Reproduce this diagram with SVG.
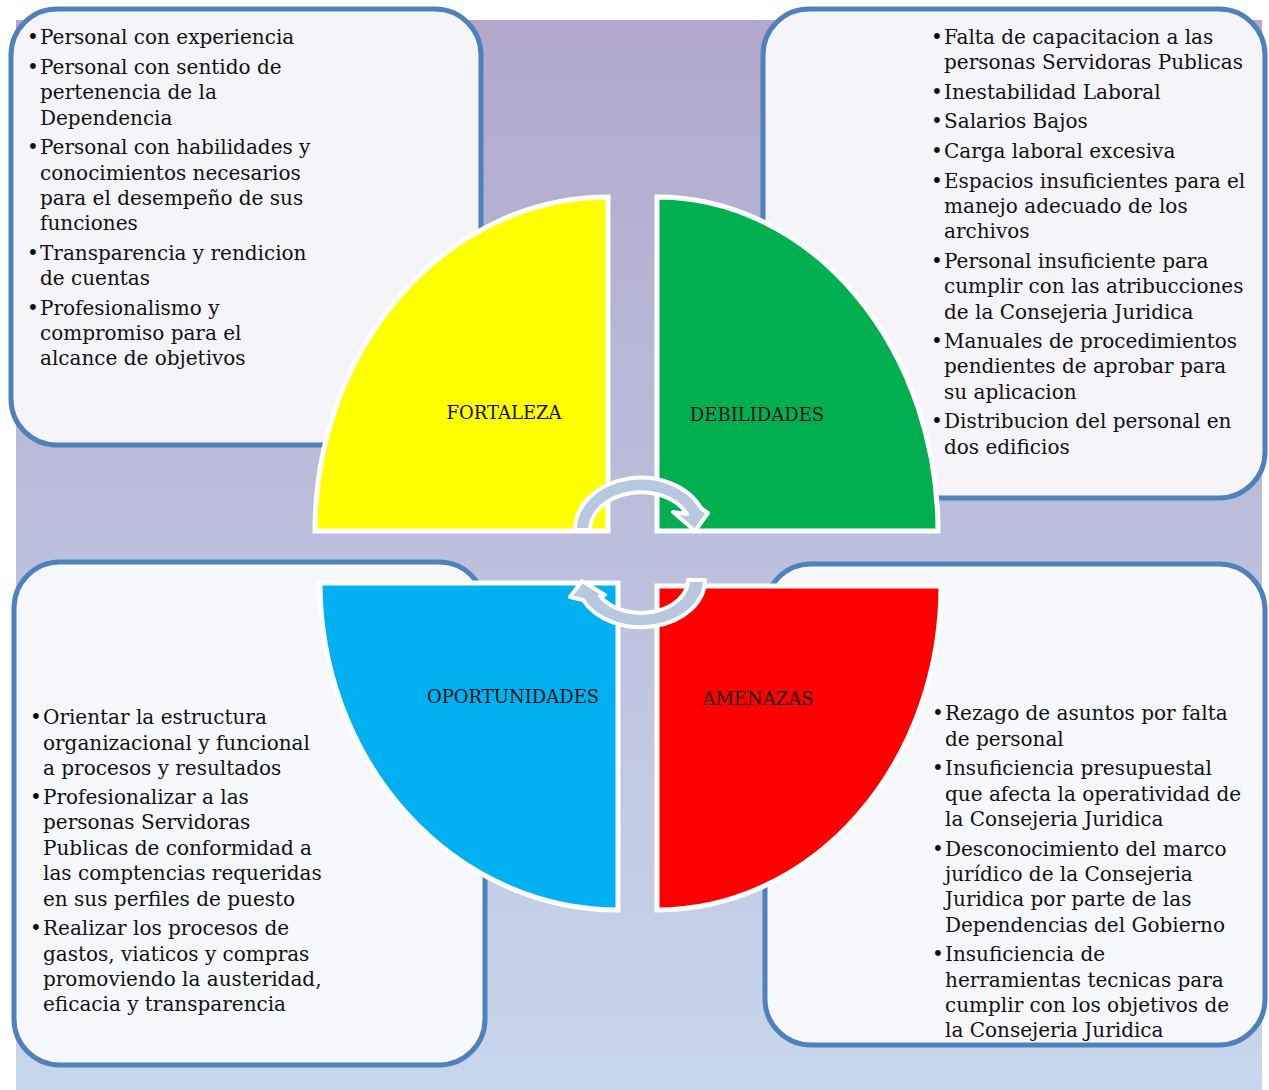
<svg xmlns="http://www.w3.org/2000/svg" width="1269" height="1090" viewBox="0 0 1269 1090">
<defs>
<linearGradient id="bg" x1="0" y1="0" x2="0" y2="1">
<stop offset="0" stop-color="#b1a8cc"/>
<stop offset="1" stop-color="#c7d7ec"/>
</linearGradient>
<style>
.box{stroke:#4f81bd;stroke-width:5}
.q{stroke:#ffffff;stroke-width:5}
.arr{fill:#b8c8df;stroke:#ffffff;stroke-width:4;stroke-linejoin:round}
text{font-family:"DejaVu Serif","Liberation Serif",serif;font-size:20px;fill:#111111}
.lbl{font-size:18px;text-anchor:middle}
</style>
</defs>
<rect x="0" y="0" width="1269" height="1090" fill="#ffffff"/>
<rect x="16" y="20" width="1246" height="1070" fill="url(#bg)"/>

<g id="box-fortalezas">
<rect class="box" x="11" y="9" width="470" height="436" rx="46" fill="#f5f4f9"/>
<text y="44"><tspan x="27">•</tspan><tspan x="40">Personal con experiencia</tspan></text>
<text y="74"><tspan x="27">•</tspan><tspan x="40">Personal con sentido de</tspan></text>
<text x="40" y="99">pertenencia de la</text>
<text x="40" y="125">Dependencia</text>
<text y="154"><tspan x="27">•</tspan><tspan x="40">Personal con habilidades y</tspan></text>
<text x="40" y="180">conocimientos necesarios</text>
<text x="40" y="205">para el desempeño de sus</text>
<text x="40" y="230">funciones</text>
<text y="260"><tspan x="27">•</tspan><tspan x="40">Transparencia y rendicion</tspan></text>
<text x="40" y="285">de cuentas</text>
<text y="315"><tspan x="27">•</tspan><tspan x="40">Profesionalismo y</tspan></text>
<text x="40" y="340">compromiso para el</text>
<text x="40" y="365">alcance de objetivos</text>
</g>

<g id="box-debilidades">
<rect class="box" x="763" y="9" width="502" height="489" rx="46" fill="#f5f4f9"/>
<text y="44"><tspan x="931">•</tspan><tspan x="944">Falta de capacitacion a las</tspan></text>
<text x="944" y="69">personas Servidoras Publicas</text>
<text y="99"><tspan x="931">•</tspan><tspan x="944">Inestabilidad Laboral</tspan></text>
<text y="128"><tspan x="931">•</tspan><tspan x="944">Salarios Bajos</tspan></text>
<text y="158"><tspan x="931">•</tspan><tspan x="944">Carga laboral excesiva</tspan></text>
<text y="188"><tspan x="931">•</tspan><tspan x="944">Espacios insuficientes para el</tspan></text>
<text x="944" y="213">manejo adecuado de los</text>
<text x="944" y="238">archivos</text>
<text y="268"><tspan x="931">•</tspan><tspan x="944">Personal insuficiente para</tspan></text>
<text x="944" y="293">cumplir con las atribucciones</text>
<text x="944" y="319">de la Consejeria Juridica</text>
<text y="348"><tspan x="931">•</tspan><tspan x="944">Manuales de procedimientos</tspan></text>
<text x="944" y="373">pendientes de aprobar para</text>
<text x="944" y="399">su aplicacion</text>
<text y="428"><tspan x="931">•</tspan><tspan x="944">Distribucion del personal en</tspan></text>
<text x="944" y="454">dos edificios</text>
</g>

<g id="box-oportunidades">
<rect class="box" x="14" y="562" width="471" height="503" rx="46" fill="#f7f8fc"/>
<text y="724"><tspan x="30">•</tspan><tspan x="43">Orientar la estructura</tspan></text>
<text x="43" y="750">organizacional y funcional</text>
<text x="43" y="775">a procesos y resultados</text>
<text y="804"><tspan x="30">•</tspan><tspan x="43">Profesionalizar a las</tspan></text>
<text x="43" y="829">personas Servidoras</text>
<text x="43" y="855">Publicas de conformidad a</text>
<text x="43" y="880">las comptencias requeridas</text>
<text x="43" y="906">en sus perfiles de puesto</text>
<text y="935"><tspan x="30">•</tspan><tspan x="43">Realizar los procesos de</tspan></text>
<text x="43" y="961">gastos, viaticos y compras</text>
<text x="43" y="986">promoviendo la austeridad,</text>
<text x="43" y="1011">eficacia y transparencia</text>
</g>

<g id="box-amenazas">
<rect class="box" x="765" y="564" width="500" height="481" rx="46" fill="#f7f8fc"/>
<text y="720"><tspan x="932">•</tspan><tspan x="945">Rezago de asuntos por falta</tspan></text>
<text x="945" y="746">de personal</text>
<text y="775"><tspan x="932">•</tspan><tspan x="945">Insuficiencia presupuestal</tspan></text>
<text x="945" y="801">que afecta la operatividad de</text>
<text x="945" y="826">la Consejeria Juridica</text>
<text y="856"><tspan x="932">•</tspan><tspan x="945">Desconocimiento del marco</tspan></text>
<text x="945" y="881">jurídico de la Consejeria</text>
<text x="945" y="906">Juridica por parte de las</text>
<text x="945" y="932">Dependencias del Gobierno</text>
<text y="961"><tspan x="932">•</tspan><tspan x="945">Insuficiencia de</tspan></text>
<text x="945" y="987">herramientas tecnicas para</text>
<text x="945" y="1012">cumplir con los objetivos de</text>
<text x="945" y="1037">la Consejeria Juridica</text>
</g>

<g id="q-fortaleza">
<path class="q" fill="#ffff00" d="M608,197 L608,531 L315,531 A293,334 0 0 1 608,197 Z"/>
<text class="lbl" x="504" y="419">FORTALEZA</text>
</g>
<g id="q-debilidades">
<path class="q" fill="#00b050" d="M657,197 A281,334 0 0 1 938,531 L657,531 Z"/>
<text class="lbl" x="757" y="421">DEBILIDADES</text>
</g>
<g id="q-oportunidades">
<path class="q" fill="#00b0f0" d="M618,583 L618,910 A298,327 0 0 1 320,583 Z"/>
<text class="lbl" x="513" y="703">OPORTUNIDADES</text>
</g>
<g id="q-amenazas">
<path class="q" fill="#ff0000" d="M657,586 L941,586 A284,324 0 0 1 657,910 Z"/>
<text class="lbl" x="758" y="705">AMENAZAS</text>
</g>

<g id="connectors">
<path class="arr" d="M575,530 A66,52 0 0 1 701,508 L708,513 L695,531 L673,512 L687,514 A51,38 0 0 0 590,530 Z"/>
<path class="arr" d="M705,580 A64,47 0 0 1 583,600 L570,597 L582,581 L605,595 L600,596 A47,33 0 0 0 688,580 Z"/>
</g>
</svg>
